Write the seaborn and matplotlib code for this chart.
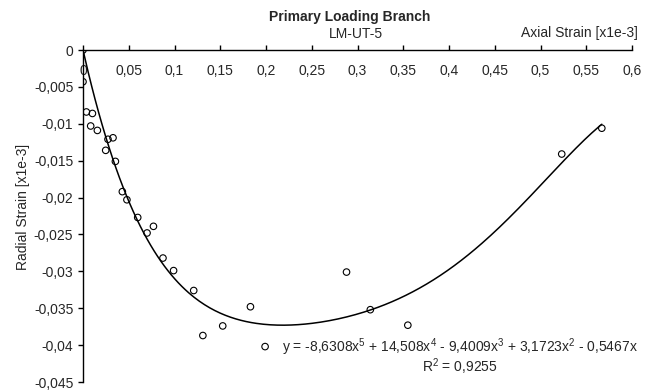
import numpy as np
import pandas as pd
import matplotlib
matplotlib.use("Agg")
import matplotlib.pyplot as plt
from matplotlib.ticker import FuncFormatter, MultipleLocator
import seaborn as sns

# ---- data ----
axial_strain = [0.0, 0.0, 0.0037, 0.0103, 0.0084, 0.0157, 0.0273, 0.0328, 0.0248,
                0.0354, 0.043, 0.048, 0.0598, 0.070, 0.077, 0.0874, 0.099, 0.121,
                0.131, 0.1527, 0.183, 0.199, 0.288, 0.314, 0.355, 0.5232, 0.567]
radial_strain = [0.0, -0.0043, -0.0084, -0.0086, -0.0103, -0.0109, -0.0121, -0.0119, -0.0136,
                 -0.0151, -0.0192, -0.0203, -0.0227, -0.0248, -0.0239, -0.0282, -0.0299, -0.0326,
                 -0.0387, -0.0374, -0.0348, -0.0402, -0.0301, -0.0352, -0.0373, -0.0141, -0.0106]
# trendline coefficients as printed (x^5 ... x^1, no intercept)
trend_coefs = [-8.6308, 14.508, -9.4009, 3.1723, -0.5467, 0.0]
r_squared = "0,9255"
title = "Primary Loading Branch"
subtitle = "LM-UT-5"
x_label = "Axial Strain [x1e-3]"
y_label = "Radial Strain [x1e-3]"

sns.set_style("white")
plt.rcParams["font.family"] = ["Liberation Sans", "DejaVu Sans"]
plt.rcParams["mathtext.fontset"] = "custom"
plt.rcParams["mathtext.rm"] = "Liberation Sans"
plt.rcParams["mathtext.it"] = "Liberation Sans:italic"

FS = 10
fig = plt.figure(figsize=(6.56, 3.90), dpi=100)
ax = fig.add_axes([83 / 656, 1 - 382 / 390, (632 - 83) / 656, (382 - 50) / 390])

df = pd.DataFrame({"x": axial_strain, "y": radial_strain})
xs = np.linspace(0, max(axial_strain), 300)
trend = pd.DataFrame({"x": xs, "y": np.polyval(trend_coefs, xs)})

sns.lineplot(data=trend, x="x", y="y", ax=ax, color="black", linewidth=1.1, zorder=2)
sns.scatterplot(data=df, x="x", y="y", ax=ax, marker="o", s=22, facecolor="none",
                edgecolor="black", linewidth=0.8, zorder=3)

ax.set_xlim(0, 0.6)
ax.set_ylim(-0.045, 0)
ax.xaxis.set_major_locator(MultipleLocator(0.05))
ax.yaxis.set_major_locator(MultipleLocator(0.005))
fmt = FuncFormatter(lambda v, p: f"{v:g}".replace(".", ",") if abs(v) > 1e-12 else "0")
ax.xaxis.set_major_formatter(fmt)
ax.yaxis.set_major_formatter(fmt)

for s in ["right", "bottom"]:
    ax.spines[s].set_visible(False)
for s in ["top", "left"]:
    ax.spines[s].set_visible(True)
    ax.spines[s].set_color("black")
    ax.spines[s].set_linewidth(1.0)

ax.tick_params(axis="x", which="both", top=True, bottom=False, labeltop=True, labelbottom=False,
               direction="out", length=3.5, width=1, color="black", pad=-24, labelsize=FS)
ax.tick_params(axis="y", which="both", left=True, direction="out", length=3.5, width=1,
               color="black", pad=3.5, labelsize=FS)
ax.set_xlabel("")
ax.set_ylabel("")
ax.grid(False)

fig.text(350 / 656, 1 - 17 / 390, title, ha="center", va="center", fontsize=FS, fontweight="bold")
fig.text(356 / 656, 1 - 34 / 390, subtitle, ha="center", va="center", fontsize=FS)
fig.text(638 / 656, 1 - 33 / 390, x_label, ha="right", va="center", fontsize=FS)
fig.text(23 / 656, 1 - 207 / 390, y_label, ha="center", va="center", rotation=90, fontsize=FS)

terms = []
for i, c in enumerate(trend_coefs[:-1]):
    p = 5 - i
    mag = f"{abs(c):g}".replace(".", ",")
    xt = "x" if p == 1 else f"x$^{{{p}}}$"
    if i == 0:
        terms.append(("-" if c < 0 else "") + mag + xt)
    else:
        terms.append((" - " if c < 0 else " + ") + mag + xt)
eq = "y = " + "".join(terms)
fig.text(460 / 656, 1 - 347 / 390, eq, ha="center", va="center", fontsize=FS)
fig.text(460 / 656, 1 - 367 / 390, "R$^{2}$ = " + r_squared, ha="center", va="center", fontsize=FS)

fig.savefig("out.png", dpi=100)
